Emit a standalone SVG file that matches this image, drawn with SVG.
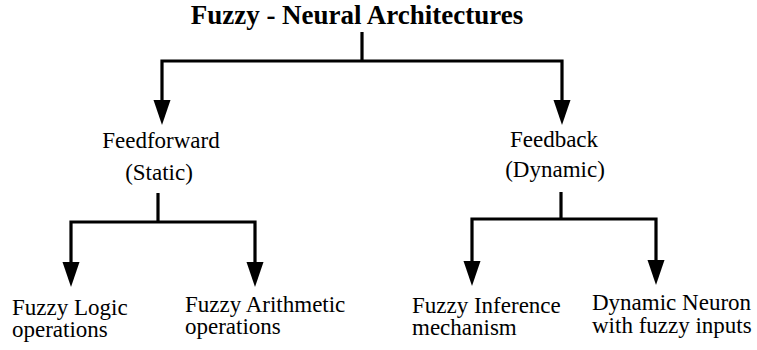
<svg xmlns="http://www.w3.org/2000/svg" width="757" height="350" viewBox="0 0 757 350">
<style>
.t{font-family:"Liberation Serif","Times New Roman",serif;font-size:23px;fill:#000}
.c{text-anchor:middle}
.title{font-family:"Liberation Serif","Times New Roman",serif;font-size:27px;font-weight:bold;fill:#000;text-anchor:middle}
.ln{fill:none;stroke:#000;stroke-width:3.2}
</style>
<defs>
<marker id="ah" markerUnits="userSpaceOnUse" markerWidth="26" markerHeight="18" refX="0" refY="8.5" orient="auto" viewBox="0 0 26 18" overflow="visible">
<path d="M0,0 L25,8.5 L0,17 z" fill="#000"/>
</marker>
</defs>
<g id="root"><text class="title" x="357" y="24">Fuzzy - Neural Architectures</text></g>
<g id="feedforward"><text class="t c" x="161" y="148">Feedforward</text><text class="t c" x="159" y="180">(Static)</text></g>
<g id="feedback"><text class="t c" x="554" y="147">Feedback</text><text class="t c" x="555" y="177">(Dynamic)</text></g>
<g id="logic"><text class="t" x="12" y="315">Fuzzy Logic</text><text class="t" x="12" y="337">operations</text></g>
<g id="arith"><text class="t" x="185" y="312">Fuzzy Arithmetic</text><text class="t" x="185" y="334">operations</text></g>
<g id="inference"><text class="t" x="412" y="313">Fuzzy Inference</text><text class="t" x="412" y="335">mechanism</text></g>
<g id="neuron"><text class="t" x="592" y="310">Dynamic Neuron</text><text class="t" x="592" y="333">with fuzzy inputs</text></g>
<g id="connectors">
<path class="ln" d="M362,32 V61"/>
<path class="ln" d="M362,61 H162 V100" marker-end="url(#ah)"/>
<path class="ln" d="M362,61 H562 V100" marker-end="url(#ah)"/>
<path class="ln" d="M158,193 V222"/>
<path class="ln" d="M158,222 H71 V262" marker-end="url(#ah)"/>
<path class="ln" d="M158,222 H255 V262" marker-end="url(#ah)"/>
<path class="ln" d="M561,192 V219"/>
<path class="ln" d="M561,219 H472 V261" marker-end="url(#ah)"/>
<path class="ln" d="M561,219 H656 V260" marker-end="url(#ah)"/>
</g>
</svg>
